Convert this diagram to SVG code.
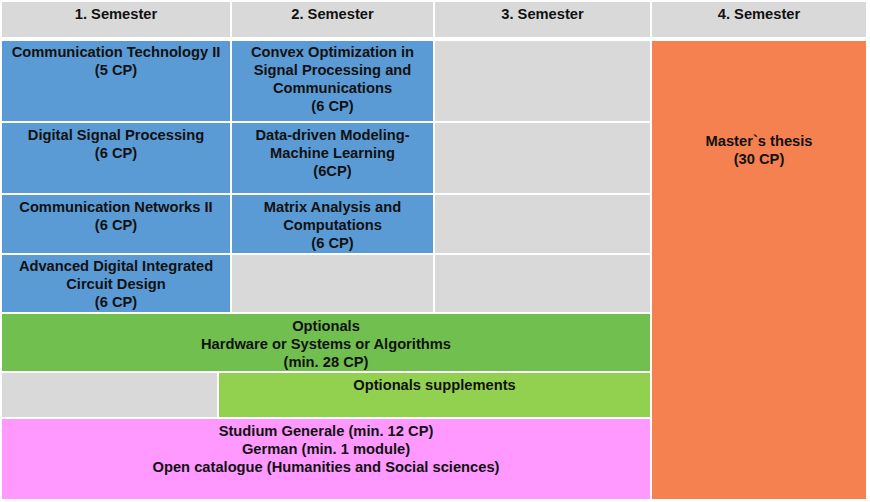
<svg xmlns="http://www.w3.org/2000/svg" width="870" height="502" viewBox="0 0 870 502">
<style>
text{font-family:"Liberation Sans",Arial,sans-serif;font-weight:bold;font-size:14.7px;fill:#111;text-anchor:middle}
.g{fill:#d9d9d9}.b{fill:#5b9bd5}.o{fill:#f58151}.dg{fill:#71bf4e}.lg{fill:#92d050}.p{fill:#ff99ff}
</style>
<rect width="870" height="502" fill="#fff"/>
<g id="headers">
<rect class="g" x="2" y="2" width="228" height="35"/><text x="116" y="19">1. Semester</text>
<rect class="g" x="232" y="2" width="201" height="35"/><text x="332.5" y="19">2. Semester</text>
<rect class="g" x="435" y="2" width="215" height="35"/><text x="542.5" y="19">3. Semester</text>
<rect class="g" x="652" y="2" width="214" height="35"/><text x="759" y="19">4. Semester</text>
</g>
<g id="comm-tech">
<rect class="b" x="2" y="41" width="228" height="80"/>
<text x="116" y="57">Communication Technology II</text><text x="116" y="75">(5 CP)</text>
</g>
<g id="convex">
<rect class="b" x="232" y="41" width="201" height="80"/>
<text x="332.5" y="57">Convex Optimization in</text><text x="332.5" y="75">Signal Processing and</text><text x="332.5" y="93">Communications</text><text x="332.5" y="111">(6 CP)</text>
</g>
<g id="dsp">
<rect class="b" x="2" y="123" width="228" height="70"/>
<text x="116" y="140">Digital Signal Processing</text><text x="116" y="158">(6 CP)</text>
</g>
<g id="ml">
<rect class="b" x="232" y="123" width="201" height="70"/>
<text x="332.5" y="140">Data-driven Modeling-</text><text x="332.5" y="158">Machine Learning</text><text x="332.5" y="176">(6CP)</text>
</g>
<g id="networks">
<rect class="b" x="2" y="195" width="228" height="58"/>
<text x="116" y="212">Communication Networks II</text><text x="116" y="230">(6 CP)</text>
</g>
<g id="matrix">
<rect class="b" x="232" y="195" width="201" height="58"/>
<text x="332.5" y="212">Matrix Analysis and</text><text x="332.5" y="230">Computations</text><text x="332.5" y="248">(6 CP)</text>
</g>
<g id="adic">
<rect class="b" x="2" y="255" width="228" height="57"/>
<text x="116" y="271">Advanced Digital Integrated</text><text x="116" y="289">Circuit Design</text><text x="116" y="307">(6 CP)</text>
</g>
<g id="empty-cells">
<rect class="g" x="232" y="255" width="201" height="57"/>
<rect class="g" x="435" y="41" width="215" height="80"/>
<rect class="g" x="435" y="123" width="215" height="70"/>
<rect class="g" x="435" y="195" width="215" height="58"/>
<rect class="g" x="435" y="255" width="215" height="57"/>
<rect class="g" x="2" y="373" width="215" height="44"/>
</g>
<g id="thesis">
<rect class="o" x="652" y="41" width="214" height="458"/>
<text x="759" y="146">Master`s thesis</text><text x="759" y="164">(30 CP)</text>
</g>
<g id="optionals">
<rect class="dg" x="2" y="314" width="648" height="57"/>
<text x="326" y="331">Optionals</text><text x="326" y="349">Hardware or Systems or Algorithms</text><text x="326" y="367">(min. 28 CP)</text>
</g>
<g id="supplements">
<rect class="lg" x="219" y="373" width="431" height="44"/>
<text x="434.5" y="390">Optionals supplements</text>
</g>
<g id="studium">
<rect class="p" x="2" y="419" width="648" height="80"/>
<text x="326" y="436">Studium Generale (min. 12 CP)</text><text x="326" y="454">German (min. 1 module)</text><text x="326" y="472">Open catalogue (Humanities and Social sciences)</text>
</g>
<g id="connectors"/>
</svg>
